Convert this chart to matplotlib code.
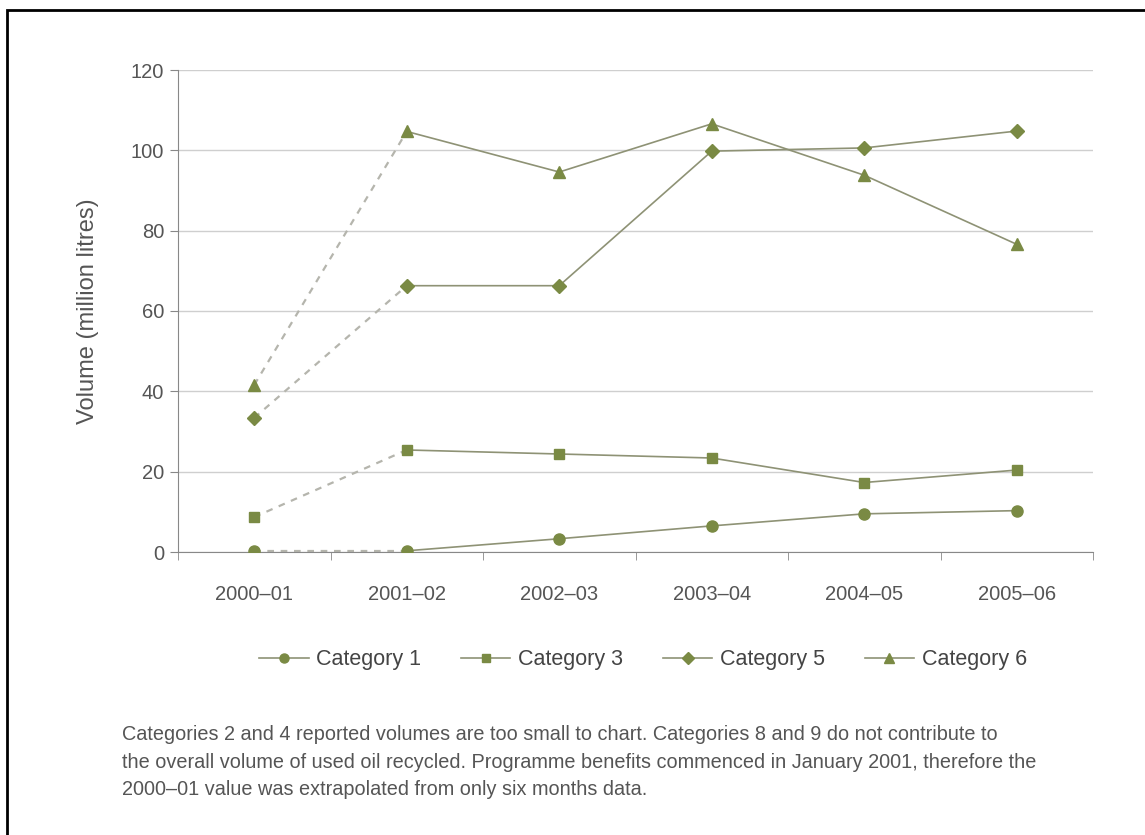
import numpy as np
import matplotlib.pyplot as plt
from matplotlib.patches import Rectangle

plt.rcParams['font.family'] = ['Liberation Sans', 'DejaVu Sans']

years = ['2000–01', '2001–02', '2002–03', '2003–04', '2004–05', '2005–06']
cat1 = [0.3, 0.3, 3.3, 6.5, 9.5, 10.3]
cat3 = [8.7, 25.4, 24.4, 23.4, 17.3, 20.4]
cat5 = [33.4, 66.3, 66.3, 99.8, 100.6, 104.8]
cat6 = [41.6, 104.7, 94.6, 106.6, 93.8, 76.6]

series = [('Category 1', cat1, 'o', 8),
          ('Category 3', cat3, 's', 7.5),
          ('Category 5', cat5, 'D', 7.5),
          ('Category 6', cat6, '^', 9)]

mcol = '#7a8a44'
lcol = '#8e9275'
dcol = '#b5b5ad'
tcol = '#555555'

fig = plt.figure(figsize=(11.45, 8.35), dpi=100)
ax = fig.add_axes([178/1145, 1 - 552/835, (1093 - 178)/1145, (552 - 70)/835])

x = np.arange(len(years))
for name, vals, mk, ms in series:
    # first year is extrapolated, so draw that step dashed
    ax.plot(x[:2], vals[:2], ls=(0, (3, 3)), color=dcol, lw=1.6, zorder=2)
    ax.plot(x[1:], vals[1:], ls='-', color=lcol, lw=1.2, zorder=3)
    ax.plot(x, vals, ls='none', marker=mk, ms=ms, color=mcol, zorder=4)
    ax.plot([], [], ls='-', color=lcol, lw=1.2, marker=mk, ms=ms - 1.5,
            markerfacecolor=mcol, markeredgecolor=mcol, label=name)

ax.set_xlim(-0.5, 5.5)
ax.set_ylim(0, 120)
ax.set_yticks(range(0, 121, 20))
ax.yaxis.grid(True, color='#cfcfcf', lw=1)
ax.set_axisbelow(True)

ax.set_xticks(x)
ax.set_xticklabels(years)
ax.set_xticks(np.arange(-0.5, 6, 1), minor=True)
ax.tick_params(axis='x', which='major', length=0, pad=24, labelsize=14.5, labelcolor=tcol)
ax.tick_params(axis='x', which='minor', length=6, color='#888888', direction='out')
ax.tick_params(axis='y', length=6, color='#888888', labelsize=14.5, labelcolor=tcol, pad=4)

for s in ['top', 'right']:
    ax.spines[s].set_visible(False)
ax.spines['left'].set_color('#888888')
ax.spines['bottom'].set_color('#888888')

ax.set_ylabel('Volume (million litres)', fontsize=17, color=tcol)
ax.yaxis.set_label_coords((99 - 178)/915, 0.5)

fig.legend(loc='center', bbox_to_anchor=(643/1145, 1 - 660/835), ncol=4,
           frameon=False, fontsize=15.5, handlelength=2.3, handletextpad=0.35,
           columnspacing=1.85, labelcolor='#444444')

note = ('Categories 2 and 4 reported volumes are too small to chart. Categories 8 and 9 do not contribute to\n'
        'the overall volume of used oil recycled. Programme benefits commenced in January 2001, therefore the\n'
        '2000–01 value was extrapolated from only six months data.')
fig.text(122/1145, 1 - 725/835, note, ha='left', va='top', fontsize=14.3,
         color=tcol, linespacing=1.58)

fig.patches.append(Rectangle((7/1145, -0.05), 1.1, 1 - 10/835 + 0.05,
                             transform=fig.transFigure, fill=False,
                             edgecolor='black', lw=2))

fig.savefig('out.png', dpi=100)
